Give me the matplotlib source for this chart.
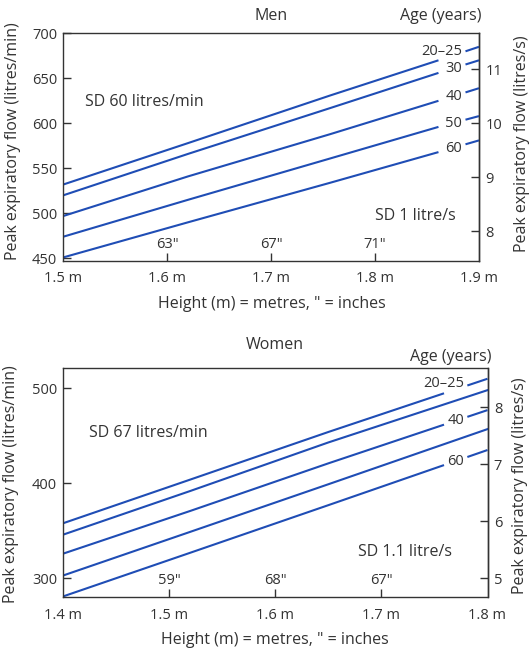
import numpy as np
import matplotlib.pyplot as plt
from matplotlib.transforms import ScaledTranslation

plt.rcParams['font.family'] = ['Open Sans', 'DejaVu Sans']
plt.rcParams['font.size'] = 11

BLUE = '#1f4db5'
GREY = '#333333'
FS = 11.5     # labels and notes
TS = 10.5     # tick labels, age and inch labels

ages = ['20–25', '30', '40', '50', '60']

# Men: peak flow (litres/min) against height (m)
men_height = [1.50, 1.62, 1.757, 1.861, 1.90]
men_20_25 = [532, 578, 631, 670, 685]
men_30 = [520, 566, 617, 656, 670]
men_40 = [497, 541, 588, 625, 639]
men_50 = [474, 515, 561, 596, 608]
men_60 = [451, 490, 534, 568, 581]
men_metre_ticks = [1.5, 1.6, 1.7, 1.8, 1.9]
men_inch_pos = [1.60, 1.70, 1.80]
men_inch_labels = ['63"', '67"', '71"']
men_left_ticks = [450, 500, 550, 600, 650, 700]
men_right_ticks = [8, 9, 10, 11]

# Women
women_height = [1.40, 1.52, 1.65, 1.80]
women_20_25 = [358, 404, 454, 510]
women_30 = [346, 392, 443, 498]
women_40 = [326, 371, 421, 477]
women_50 = [303, 349, 399, 457]
women_60 = [281, 327, 377, 435]
women_age_labels = ['20–25', '', '40', '', '60']
women_metre_ticks = [1.4, 1.5, 1.6, 1.7, 1.8]
women_inch_pos = [1.50, 1.60, 1.70]
women_inch_labels = ['59"', '68"', '67"']
women_left_ticks = [300, 400, 500]
women_right_ticks = [5, 6, 7, 8]

W, H = 532, 649
fig = plt.figure(figsize=(W / 100, H / 100), dpi=100)


def ftext(px, py, s, **kw):
    fig.text(px / W, 1 - py / H, s, color=GREY, fontsize=FS, **kw)


def panel(rect, heights, lines, labels, gap, label_x, first_dy,
          xlim, ylim, mticks, inch_pos, inch_labels, lticks, rticks):
    ax = fig.add_axes(rect)
    xs = np.array(heights)
    mid = (gap[0] + gap[1]) / 2
    for i, (vals, lab) in enumerate(zip(lines, labels)):
        ys = np.array(vals)
        if lab:
            lm = xs < gap[0]
            rm = xs > gap[1]
            ax.plot(np.r_[xs[lm], gap[0]], np.r_[ys[lm], np.interp(gap[0], xs, ys)],
                    color=BLUE, lw=1.5, solid_capstyle='butt')
            ax.plot(np.r_[gap[1], xs[rm]], np.r_[np.interp(gap[1], xs, ys), ys[rm]],
                    color=BLUE, lw=1.5, solid_capstyle='butt')
            dy = first_dy if i == 0 else 0
            ax.text(label_x, np.interp(mid, xs, ys) + dy, lab, ha='right',
                    va='center', color=GREY, fontsize=TS)
        else:
            ax.plot(xs, ys, color=BLUE, lw=1.5)

    ax.set_xlim(*xlim)
    ax.set_ylim(*ylim)

    # metre labels under the axis (number centred on the tick)
    ax.set_xticks(mticks)
    ax.set_xticklabels([f'{v:.1f} m' for v in mticks])
    shift = ScaledTranslation(5.5 / 72, 0, fig.dpi_scale_trans)
    for t in ax.get_xticklabels():
        t.set_transform(t.get_transform() + shift)
    ax.tick_params(axis='x', length=0, pad=7.5, labelsize=TS, colors=GREY)

    # inch marks inside the axis
    tick_frac = 8 / (rect[3] * H)
    ax.vlines(inch_pos, 0, tick_frac, transform=ax.get_xaxis_transform(),
              color=GREY, lw=1)
    for p, lab in zip(inch_pos, inch_labels):
        ax.annotate(lab, xy=(p, 0), xycoords=('data', 'axes fraction'),
                    xytext=(0, 9.3), textcoords='offset points',
                    ha='center', va='baseline', color=GREY, fontsize=TS)

    ax.set_yticks(lticks)
    ax.tick_params(axis='y', direction='in', length=6, width=1, pad=4.5,
                   labelsize=TS, colors=GREY)

    sec = ax.secondary_yaxis('right', functions=(lambda v: v / 60,
                                                  lambda v: v * 60))
    sec.set_yticks(rticks)
    sec.tick_params(axis='y', direction='in', length=6, width=1, pad=4.5,
                    labelsize=TS, colors=GREY)
    for s in list(ax.spines.values()) + list(sec.spines.values()):
        s.set_color(GREY)
        s.set_linewidth(1.0)
    return ax


men = panel([63.3 / W, 1 - 261 / H, 415.7 / W, 227.7 / H], men_height,
            [men_20_25, men_30, men_40, men_50, men_60], ages,
            (1.861, 1.887), 1.884, 4.5, (1.5, 1.9), (447, 700),
            men_metre_ticks, men_inch_pos, men_inch_labels,
            men_left_ticks, men_right_ticks)
men.text(0.052, 0.70, 'SD 60 litres/min', transform=men.transAxes,
         va='center', color=GREY, fontsize=FS)
men.text(0.944, 0.198, 'SD 1 litre/s', transform=men.transAxes,
         va='center', ha='right', color=GREY, fontsize=FS)

women = panel([63.3 / W, 1 - 597.3 / H, 424.2 / W, 229 / H], women_height,
              [women_20_25, women_30, women_40, women_50, women_60],
              women_age_labels, (1.759, 1.781), 1.778, 6, (1.4, 1.8),
              (280, 521), women_metre_ticks, women_inch_pos,
              women_inch_labels, women_left_ticks, women_right_ticks)
women.text(0.061, 0.716, 'SD 67 litres/min', transform=women.transAxes,
           va='center', color=GREY, fontsize=FS)
women.text(0.917, 0.198, 'SD 1.1 litre/s', transform=women.transAxes,
           va='center', ha='right', color=GREY, fontsize=FS)

# titles and axis labels
ftext(271, 20.3, 'Men', ha='center', va='baseline')
ftext(481, 20.3, 'Age (years)', ha='right', va='baseline')
ftext(275, 348.6, 'Women', ha='center', va='baseline')
ftext(491.5, 361, 'Age (years)', ha='right', va='baseline')
ftext(272, 308.3, 'Height (m) = metres, " = inches', ha='center',
      va='baseline')
ftext(275, 644.5, 'Height (m) = metres, " = inches', ha='center',
      va='baseline')
ftext(13, 141, 'Peak expiratory flow (litres/min)', rotation=90,
      ha='center', va='center')
ftext(522, 144, 'Peak expiratory flow (litres/s)', rotation=90,
      ha='center', va='center')
ftext(11, 484, 'Peak expiratory flow (litres/min)', rotation=90,
      ha='center', va='center')
ftext(520, 486, 'Peak expiratory flow (litres/s)', rotation=90,
      ha='center', va='center')

fig.savefig('out.png', dpi=100)
